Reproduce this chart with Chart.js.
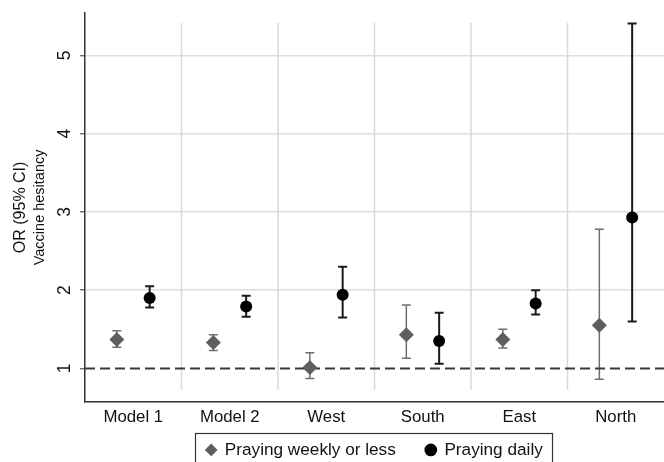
<!DOCTYPE html>
<html>
<head>
<meta charset="utf-8">
<script src="https://cdn.jsdelivr.net/npm/chart.js@4/dist/chart.umd.min.js"></script>
<style>
  html, body { margin: 0; padding: 0; background: #ffffff; }
  canvas { display: block; }
</style>
</head>
<body>
<canvas id="c" width="664" height="462"></canvas>
<script>
// ---- data ----
const categories = ['Model 1', 'Model 2', 'West', 'South', 'East', 'North'];
const seriesNames = ['Praying weekly or less', 'Praying daily'];
const weeklyOR = [1.37, 1.33, 1.01, 1.43, 1.37, 1.55];
const weeklyLo = [1.27, 1.23, 0.87, 1.13, 1.26, 0.86];
const weeklyHi = [1.48, 1.43, 1.20, 1.81, 1.50, 2.78];
const dailyOR  = [1.90, 1.79, 1.94, 1.35, 1.83, 2.93];
const dailyLo  = [1.78, 1.66, 1.65, 1.06, 1.69, 1.60];
const dailyHi  = [2.05, 1.93, 2.30, 1.71, 2.00, 5.41];
const yTicks = [1, 2, 3, 4, 5];
const refValue = 1;

// ---- styling / layout constants ----
const DODGE = 0.17;
const FONT = "'Liberation Sans', Arial, Helvetica, sans-serif";
const GREY = '#5e5e5e';
const GREY_CI = '#6e6e6e';
const BLACK = '#000000';
const BLACK_CI = '#1a1a1a';

Chart.defaults.font.family = FONT;
Chart.defaults.color = '#111111';

const xPos = (i, off) => i + 0.5 + off;
const pointData = (vals, off) => vals.map((v, i) => ({ x: xPos(i, off), y: v }));
const ciData = (lo, hi, off) => {
  const out = [];
  lo.forEach((l, i) => {
    out.push({ x: xPos(i, off), y: l });
    out.push({ x: xPos(i, off), y: hi[i] });
    out.push({ x: xPos(i, off), y: null });
  });
  return out;
};
const capData = (lo, hi, off) => {
  const out = [];
  lo.forEach((l, i) => {
    out.push({ x: xPos(i, off), y: l });
    out.push({ x: xPos(i, off), y: hi[i] });
  });
  return out;
};

// let the category labels draw below the (compact) x-axis box
const labelRoom = {
  id: 'labelRoom',
  afterLayout(chart) {
    const s = chart.scales.x;
    s.bottom = s.top + 32;
  }
};

// vertical separators between categories (shorter than the plot area, as in the reference)
const separators = {
  id: 'separators',
  beforeDatasetsDraw(chart) {
    const xs = chart.scales.xl, a = chart.chartArea, ctx = chart.ctx;
    ctx.save();
    ctx.strokeStyle = '#d9d9d9';
    ctx.lineWidth = 1.5;
    for (let k = 1; k < categories.length; k++) {
      const px = xs.getPixelForValue(k);
      ctx.beginPath();
      ctx.moveTo(px, a.top + 10);
      ctx.lineTo(px, a.bottom - 12);
      ctx.stroke();
    }
    ctx.restore();
  }
};

// frame around the legend
const legendFrame = {
  id: 'legendFrame',
  afterDraw(chart) {
    const lg = chart.legend;
    if (!lg || !lg.legendHitBoxes || !lg.legendHitBoxes.length) return;
    const hb = lg.legendHitBoxes;
    const first = hb[0], last = hb[hb.length - 1];
    const l = first.left - 11;
    const r = last.left + last.width + 9;
    const t = first.top - 8.5;
    const ctx = chart.ctx;
    ctx.save();
    ctx.strokeStyle = '#333333';
    ctx.lineWidth = 1.2;
    ctx.strokeRect(Math.round(l) + 0.5, Math.round(t) + 0.5, Math.round(r - l), chart.height + 10 - t);
    ctx.restore();
  }
};

const ctx = document.getElementById('c').getContext('2d');
new Chart(ctx, {
  type: 'scatter',
  data: {
    labels: categories,
    datasets: [
      {
        label: seriesNames[0], data: pointData(weeklyOR, -DODGE),
        pointStyle: 'rectRot', pointRadius: 7.5, pointHoverRadius: 7.5,
        backgroundColor: GREY, borderColor: GREY, borderWidth: 0,
        xAxisID: 'xl', yAxisID: 'y'
      },
      {
        label: seriesNames[1], data: pointData(dailyOR, DODGE),
        pointStyle: 'circle', pointRadius: 6, pointHoverRadius: 6,
        backgroundColor: BLACK, borderColor: BLACK, borderWidth: 0,
        xAxisID: 'xl', yAxisID: 'y'
      },
      {
        type: 'line', label: 'ref',
        data: [{ x: 0, y: refValue }, { x: categories.length, y: refValue }],
        borderColor: '#3a3a3a', borderWidth: 2, borderDash: [10, 5],
        pointRadius: 0, fill: false, xAxisID: 'xl', yAxisID: 'y'
      },
      {
        type: 'line', label: 'weekly CI', data: ciData(weeklyLo, weeklyHi, -DODGE),
        borderColor: GREY_CI, borderWidth: 1.5, pointRadius: 0, spanGaps: false,
        fill: false, xAxisID: 'xl', yAxisID: 'y'
      },
      {
        label: 'weekly caps', data: capData(weeklyLo, weeklyHi, -DODGE),
        pointStyle: 'line', pointRadius: 4.5, pointHoverRadius: 4.5,
        borderColor: GREY_CI, borderWidth: 1.5, xAxisID: 'xl', yAxisID: 'y'
      },
      {
        type: 'line', label: 'daily CI', data: ciData(dailyLo, dailyHi, DODGE),
        borderColor: BLACK_CI, borderWidth: 2, pointRadius: 0, spanGaps: false,
        fill: false, xAxisID: 'xl', yAxisID: 'y'
      },
      {
        label: 'daily caps', data: capData(dailyLo, dailyHi, DODGE),
        pointStyle: 'line', pointRadius: 4.5, pointHoverRadius: 4.5,
        borderColor: BLACK_CI, borderWidth: 2, xAxisID: 'xl', yAxisID: 'y'
      }
    ]
  },
  options: {
    responsive: false,
    animation: false,
    events: [],
    layout: { autoPadding: false, padding: { top: 13, right: -2, bottom: -6.5, left: 0 } },
    scales: {
      x: {
        type: 'category', position: 'bottom', offset: true,
        grid: { display: false, drawTicks: false },
        border: { display: true, color: '#333333', width: 1.5 },
        ticks: { padding: 5, color: '#111111', font: { size: 16.8 } },
        afterFit: s => { s.height = 9.5; s.paddingLeft = 0; s.paddingRight = 0; }
      },
      xl: {
        type: 'linear', display: false, min: 0, max: categories.length
      },
      y: {
        type: 'linear', position: 'left', min: 0.573, max: 5.543,
        afterBuildTicks: s => { s.ticks = yTicks.map(v => ({ value: v })); },
        afterFit: s => { s.width = 54.8; s.paddingTop = 0; s.paddingBottom = 0; },
        grid: {
          color: c => (c.tick && c.tick.value === refValue) ? 'rgba(0,0,0,0)' : '#dedede',
          lineWidth: 1.5, drawTicks: true, tickLength: 5, tickColor: '#555555', tickWidth: 1.2
        },
        border: { display: true, color: '#333333', width: 1.5 },
        ticks: {
          minRotation: 90, maxRotation: 90, crossAlign: 'center', padding: 10,
          color: '#111111', font: { size: 17.5 }
        },
        title: {
          display: true, text: 'Vaccine hesitancy', color: '#111111',
          font: { size: 14.5 }, padding: { top: 1, bottom: 0 }
        }
      }
    },
    plugins: {
      tooltip: { enabled: false },
      title: {
        display: true, position: 'left', fullSize: false, text: 'OR (95% CI)',
        color: '#111111', font: { size: 16, weight: 'normal' }, padding: { top: 11, bottom: 0 }
      },
      legend: {
        display: true, position: 'bottom', fullSize: false,
        labels: {
          usePointStyle: true, boxWidth: 10, boxHeight: 9, padding: 30,
          color: '#111111', font: { size: 17.2 },
          filter: item => item.datasetIndex < 2
        }
      }
    }
  },
  plugins: [labelRoom, separators, legendFrame]
});
</script>
</body>
</html>
